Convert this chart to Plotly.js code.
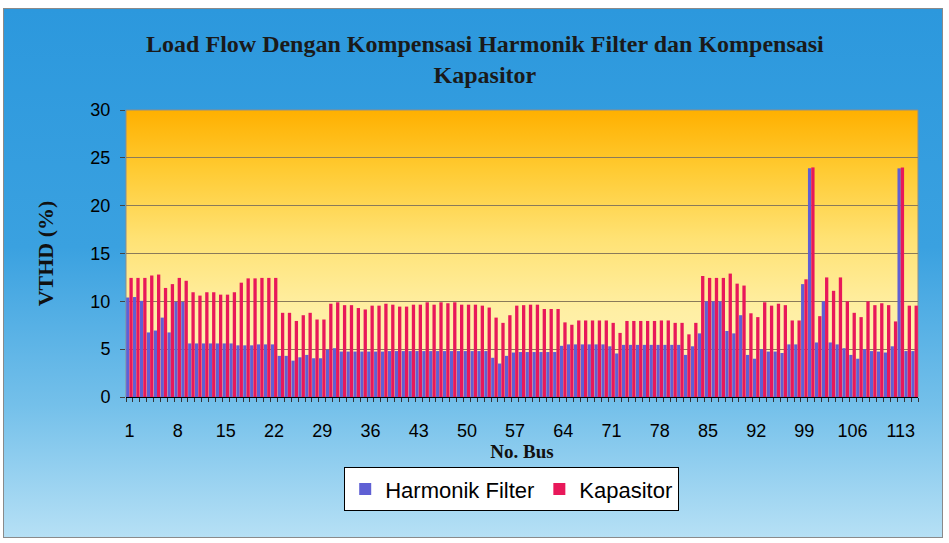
<!DOCTYPE html>
<html><head><meta charset="utf-8">
<script src="https://cdn.plot.ly/plotly-3.0.1.min.js"></script>
<style>
html,body{margin:0;padding:0;background:#fff;}
#wrap{position:relative;width:949px;height:543px;overflow:hidden;}
#bg{position:absolute;left:3px;top:8px;width:938px;height:528px;border:1px solid #8a8a8a;
background:linear-gradient(to bottom,#2c98dd 0%,#3aa1e0 45%,#74c0ea 75%,#b6e0f5 100%);}
#chart{position:absolute;left:0;top:0;width:949px;height:543px;}
</style></head><body>
<div id="wrap"><div id="bg"></div><div id="chart"></div></div>
<script>
const bus = [1,2,3,4,5,6,7,8,9,10,11,12,13,14,15,16,17,18,19,20,21,22,23,24,25,26,27,28,29,30,
31,32,33,34,35,36,37,38,39,40,41,42,43,44,45,46,47,48,49,50,51,52,53,54,55,56,57,58,59,60,
61,62,63,64,65,66,67,68,69,70,71,72,73,74,75,76,77,78,79,80,81,82,83,84,85,86,87,88,89,90,
91,92,93,94,95,96,97,98,99,100,101,102,103,104,105,106,107,108,109,110,111,112,113,114,115];

const harmonikFilter = [
 10.4, 10.45, 10.05, 6.75, 6.95, 8.3, 6.75, 9.95, 9.95, 5.6,
 5.6, 5.6, 5.6, 5.6, 5.6, 5.6, 5.4, 5.4, 5.4, 5.5,
 5.5, 5.5, 4.3, 4.3, 3.8, 4.15, 4.4, 4.05, 4.05, 4.95,
 5.1, 4.75, 4.75, 4.75, 4.75, 4.75, 4.75, 4.75, 4.8, 4.8,
 4.8, 4.8, 4.8, 4.8, 4.8, 4.8, 4.8, 4.8, 4.8, 4.8,
 4.8, 4.8, 4.8, 4.1, 3.5, 4.3, 4.65, 4.7, 4.7, 4.7,
 4.7, 4.7, 4.7, 5.35, 5.5, 5.5, 5.5, 5.5, 5.5, 5.5,
 5.3, 4.55, 5.45, 5.45, 5.45, 5.45, 5.45, 5.45, 5.45, 5.45,
 5.45, 4.4, 5.3, 6.65, 10.0, 10.0, 10.0, 6.9, 6.65, 8.55,
 4.4, 4.0, 5.0, 4.75, 4.75, 4.6, 5.5, 5.5, 11.8, 23.9,
 5.7, 10.0, 5.7, 5.5, 5.1, 4.4, 4.0, 5.0, 4.8, 4.75,
 4.65, 5.3, 23.9, 4.8, 4.8];

const kapasitor = [
 12.45, 12.45, 12.45, 12.7, 12.8, 11.4, 11.8, 12.45, 12.15, 10.95,
 10.6, 10.95, 10.95, 10.7, 10.7, 10.95, 11.95, 12.4, 12.4, 12.45,
 12.45, 12.45, 8.8, 8.8, 7.95, 8.55, 8.8, 8.1, 8.1, 9.75,
 9.9, 9.6, 9.6, 9.3, 9.15, 9.55, 9.55, 9.75, 9.65, 9.45,
 9.45, 9.65, 9.65, 9.9, 9.65, 9.9, 9.8, 9.9, 9.65, 9.65,
 9.65, 9.55, 9.35, 8.3, 7.75, 8.55, 9.55, 9.6, 9.65, 9.65,
 9.2, 9.2, 9.2, 7.8, 7.55, 8.0, 8.0, 8.0, 8.0, 8.0,
 7.75, 6.7, 7.95, 7.95, 7.95, 7.95, 7.95, 8.0, 8.0, 7.75,
 7.75, 6.55, 7.75, 12.65, 12.45, 12.45, 12.45, 12.9, 11.85, 11.65,
 8.75, 8.35, 9.9, 9.55, 9.75, 9.6, 8.0, 8.0, 12.3, 24.0,
 8.45, 12.5, 11.1, 12.5, 10.0, 8.8, 8.35, 10.0, 9.6, 9.8,
 9.6, 7.9, 24.0, 9.55, 9.55];

const xTickVals = [1,8,15,22,29,36,43,50,57,64,71,78,85,92,99,106,113];
const xTickText = ['1','8','15','22','29','36','43','50','57','64','71','78','85','92','99','106','113'];
const yTickVals = [0,5,10,15,20,25,30];

const svg = "<svg xmlns='http://www.w3.org/2000/svg' width='100' height='100' preserveAspectRatio='none'>" +
 "<defs><linearGradient id='g' x1='0' y1='0' x2='0' y2='1'>" +
 "<stop offset='0' stop-color='#ffb000'/><stop offset='0.2' stop-color='#ffca30'/>" +
 "<stop offset='0.45' stop-color='#ffe274'/><stop offset='0.7' stop-color='#ffefa4'/>" +
 "<stop offset='1' stop-color='#fff4bb'/></linearGradient></defs>" +
 "<rect width='100' height='100' fill='url(#g)'/></svg>";
const svgURI = 'data:image/svg+xml;charset=utf-8,' + encodeURIComponent(svg);

const traces = [
 {type:'bar', name:'Harmonik Filter', x:bus, y:harmonikFilter, marker:{color:'#5f60d4', line:{width:0}}},
 {type:'bar', name:'Kapasitor', x:bus, y:kapasitor, marker:{color:'#e8185a', line:{width:0}}}
];

const serif = 'Liberation Serif, Times New Roman, serif';
const sans = 'Liberation Sans, Arial, sans-serif';

const layout = {
 width:949, height:543,
 margin:{l:126, r:31, t:110, b:146},
 paper_bgcolor:'rgba(0,0,0,0)', plot_bgcolor:'rgba(0,0,0,0)',
 title:{text:'<b>Load Flow Dengan Kompensasi Harmonik Filter dan Kompensasi<br>Kapasitor</b>',
   font:{family:serif, size:24, color:'#1a1a1a'}, x:0.511, xref:'container', xanchor:'center',
   y:0.905, yref:'container', yanchor:'top'},
 barmode:'group', bargap:0.04, bargroupgap:0,
 showlegend:true,
 xaxis:{range:[0.5,115.5], tickmode:'array', tickvals:xTickVals, ticktext:xTickText, ticks:'',
   showgrid:false, zeroline:false, showline:true, linecolor:'#000', linewidth:1,
   tickfont:{family:sans, size:18, color:'#000'}, ticklabelstandoff:17,
   minor:{tickmode:'linear', tick0:0.5, dtick:1, ticks:'outside', ticklen:4, tickcolor:'#333', showgrid:false},
   title:{text:'<b>No. Bus</b>', font:{family:serif, size:19, color:'#111'}, standoff:2}},
 yaxis:{range:[0,30], tickmode:'array', tickvals:yTickVals, showgrid:true, gridcolor:'#8a7a5a', gridwidth:1,
   zeroline:false, ticks:'outside', ticklen:5, tickcolor:'#444', ticklabelstandoff:6,
   tickfont:{family:sans, size:18, color:'#000'},
   title:{text:'<b>VTHD (%)</b>', font:{family:serif, size:22, color:'#111'}, standoff:30}},
 legend:{orientation:'h', x:0.487, xanchor:'center', y:-0.245, yanchor:'top', bgcolor:'#ffffff',
   bordercolor:'#000', borderwidth:1, font:{family:sans, size:22, color:'#000'}},
 images:[{source:svgURI, xref:'paper', yref:'paper', x:0, y:1, sizex:1, sizey:1, sizing:'stretch',
   xanchor:'left', yanchor:'top', layer:'below'}],
 shapes:[{type:'rect', xref:'paper', yref:'paper', x0:0, x1:1, y0:0, y1:1,
   line:{color:'#8d8d8d', width:1}, fillcolor:'rgba(0,0,0,0)', layer:'below'}]
};

Plotly.newPlot('chart', traces, layout, {displayModeBar:false, staticPlot:true});
</script>
</body></html>
